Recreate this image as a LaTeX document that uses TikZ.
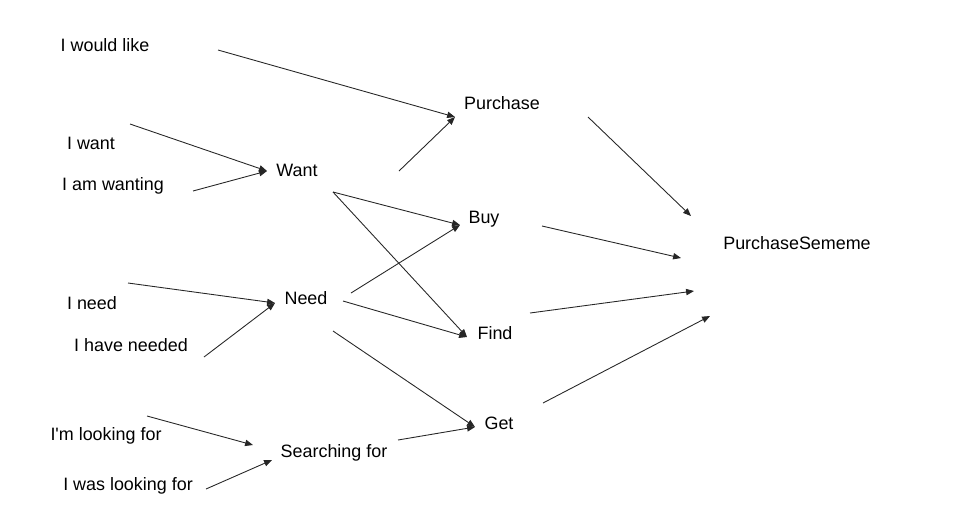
\documentclass[tikz,border=0pt]{standalone}
\usepackage{fontspec}
\setmainfont{Liberation Sans}[Ligatures=TeXOff]
\usepackage{tikz}
\usetikzlibrary{arrows.meta}

\begin{document}
\begin{tikzpicture}[
    x=0.02cm, y=-0.02cm,
    word/.style={inner sep=0pt, font=\fontsize{10.2}{12}\selectfont},
    arrow/.style={-{Triangle[length=4.5pt,width=3.6pt]}, line width=0.5pt, black!85}
  ]
    \useasboundingbox (0,0) rectangle (976,522);
    % phrases
    \node[word] (wouldlike) at (105,45) {I would like};
    \node[word] (iwant) at (91,143) {I want};
    \node[word] (wanting) at (113,186) {I am wanting};
    \node[word] (ineed) at (92,303) {I need};
    \node[word] (needed) at (131,345) {I have needed};
    \node[word] (looking) at (106,436) {I'm looking for};
    \node[word] (waslooking) at (128,486) {I was looking for};
    % middle words
    \node[word] (want) at (297,170) {Want};
    \node[word] (need) at (306,298) {Need};
    \node[word] (search) at (334,453) {Searching for};
    \node[word] (purchase) at (502,103) {Purchase};
    \node[word] (buy) at (484,219) {Buy};
    \node[word] (find) at (495,333) {Find};
    \node[word] (get) at (499,423) {Get};
    \node[word] (sememe) at (797,243) {PurchaseSememe};
    % arrow ends
    \coordinate (wouldlike-out) at (218,50);
    \coordinate (iwant-out) at (130,124);
    \coordinate (wanting-out) at (193,191);
    \coordinate (ineed-out) at (128,283);
    \coordinate (needed-out) at (204,357);
    \coordinate (looking-out) at (147,416);
    \coordinate (waslooking-out) at (206,489);
    \coordinate (want-in) at (267,171);
    \coordinate (want-out) at (333,192);
    \coordinate (want-up) at (399,171);
    \coordinate (need-in) at (275,303);
    \coordinate (need-up) at (351,293);
    \coordinate (need-out) at (343,301);
    \coordinate (need-down) at (333,331);
    \coordinate (search-in1) at (253,445);
    \coordinate (search-in2) at (272,460);
    \coordinate (search-out) at (398,440);
    \coordinate (purchase-in) at (455,117);
    \coordinate (purchase-out) at (588,117);
    \coordinate (buy-in) at (460,225);
    \coordinate (buy-out) at (542,226);
    \coordinate (find-in) at (467,337);
    \coordinate (find-out) at (530,313);
    \coordinate (get-in) at (475,427);
    \coordinate (get-out) at (543,403);
    \coordinate (sememe-in1) at (691,216);
    \coordinate (sememe-in2) at (681,258);
    \coordinate (sememe-in3) at (694,291);
    \coordinate (sememe-in4) at (710,316);
    % connectors
    \draw[arrow] (wouldlike-out) -- (purchase-in);
    \draw[arrow] (iwant-out) -- (want-in);
    \draw[arrow] (wanting-out) -- (want-in);
    \draw[arrow] (want-up) -- (purchase-in);
    \draw[arrow] (want-out) -- (buy-in);
    \draw[arrow] (want-out) -- (find-in);
    \draw[arrow] (ineed-out) -- (need-in);
    \draw[arrow] (needed-out) -- (need-in);
    \draw[arrow] (need-up) -- (buy-in);
    \draw[arrow] (need-out) -- (find-in);
    \draw[arrow] (need-down) -- (get-in);
    \draw[arrow] (looking-out) -- (search-in1);
    \draw[arrow] (waslooking-out) -- (search-in2);
    \draw[arrow] (search-out) -- (get-in);
    \draw[arrow] (purchase-out) -- (sememe-in1);
    \draw[arrow] (buy-out) -- (sememe-in2);
    \draw[arrow] (find-out) -- (sememe-in3);
    \draw[arrow] (get-out) -- (sememe-in4);
  \end{tikzpicture}
\end{document}
